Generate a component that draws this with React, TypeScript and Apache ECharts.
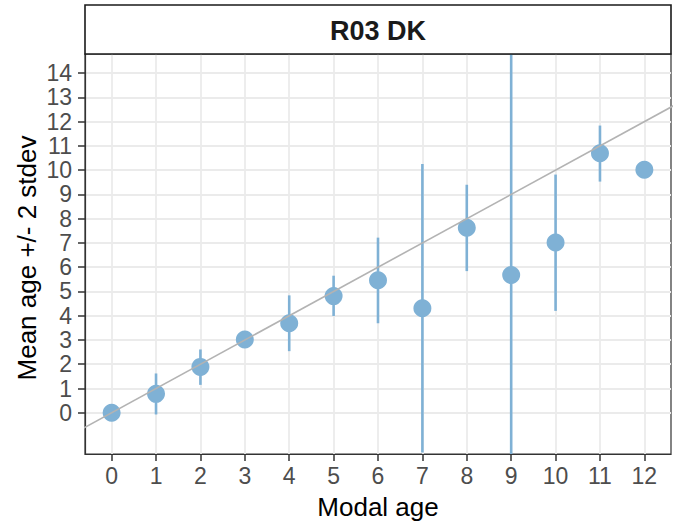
import React, { useEffect, useRef } from "react";
import * as echarts from "echarts";

const modalAge = [0, 1, 2, 3, 4, 5, 6, 7, 8, 9, 10, 11, 12];
const meanAge = [0.0, 0.78, 1.89, 3.02, 3.69, 4.81, 5.46, 4.31, 7.63, 5.68, 7.02, 10.7, 10.02];
const lowerAge = [0.0, -0.07, 1.15, 3.02, 2.54, 3.99, 3.69, -1.64, 5.84, -4.1, 4.2, 9.53, 10.02];
const upperAge = [0.0, 1.62, 2.61, 3.02, 4.84, 5.65, 7.22, 10.26, 9.4, 15.5, 9.82, 11.84, 10.02];
const xTicks = [0, 1, 2, 3, 4, 5, 6, 7, 8, 9, 10, 11, 12];
const yTicks = [0, 1, 2, 3, 4, 5, 6, 7, 8, 9, 10, 11, 12, 13, 14];
const refLine = [-2, 16];
const stripTitle = "R03 DK";
const xTitle = "Modal age";
const yTitle = "Mean age +/- 2 stdev";

const FONT = "'Liberation Sans', Arial, Helvetica, sans-serif";
const POINT_COLOR = "#7FB1D5";

const GRID = { left: 85, top: 54, width: 586, height: 400 };

export default function App() {
  const ref = useRef<HTMLDivElement>(null);

  useEffect(() => {
    if (!ref.current) return;
    const chart = echarts.init(ref.current, undefined, { renderer: "svg" });
    const option: any = {
      animation: false,
      backgroundColor: "#ffffff",
      grid: {
        left: GRID.left,
        top: GRID.top,
        width: GRID.width,
        height: GRID.height,
        show: true,
        borderColor: "#333333",
        borderWidth: 1.2,
        backgroundColor: "#ffffff",
        containLabel: false,
        outerBoundsMode: "none",
      },
      xAxis: {
        type: "value",
        min: -0.6,
        max: 12.6,
        name: xTitle,
        nameLocation: "middle",
        nameGap: 40,
        nameTextStyle: { color: "#000", fontSize: 26, fontFamily: FONT },
        axisLine: { show: true, onZero: false, lineStyle: { color: "#333333", width: 1.2 } },
        axisTick: { show: true, length: 7, customValues: xTicks, lineStyle: { color: "#333333", width: 1.5 } },
        axisLabel: { customValues: xTicks, color: "#4D4D4D", fontSize: 23, fontFamily: FONT, margin: 10 },
        splitLine: { show: true, lineStyle: { color: "#EBEBEB", width: 1.8 } },
      },
      yAxis: {
        type: "value",
        min: -1.7,
        max: 14.79,
        axisLine: { show: true, onZero: false, lineStyle: { color: "#333333", width: 1.2 } },
        axisTick: { show: true, length: 7, customValues: yTicks, lineStyle: { color: "#333333", width: 1.5 } },
        axisLabel: { customValues: yTicks, color: "#4D4D4D", fontSize: 23, fontFamily: FONT, margin: 13 },
        splitLine: { show: true, lineStyle: { color: "#EBEBEB", width: 1.8 } },
      },
      series: [
        {
          type: "custom",
          z: 2,
          clip: true,
          data: modalAge.map((x, i) => [x, lowerAge[i], upperAge[i]]),
          renderItem: (params: any, api: any) => {
            const x = api.value(0);
            const p1 = api.coord([x, api.value(1)]);
            const p2 = api.coord([x, api.value(2)]);
            return {
              type: "line",
              shape: { x1: p1[0], y1: p1[1], x2: p2[0], y2: p2[1] },
              style: { stroke: POINT_COLOR, lineWidth: 2.6 },
            };
          },
        },
        {
          type: "scatter",
          z: 3,
          symbol: "circle",
          symbolSize: 18,
          itemStyle: { color: POINT_COLOR, opacity: 1 },
          data: modalAge.map((x, i) => [x, meanAge[i]]),
        },
        {
          type: "line",
          z: 4,
          clip: true,
          showSymbol: false,
          symbol: "none",
          lineStyle: { color: "#B3B3B3", width: 1.6 },
          data: refLine.map((v) => [v, v]),
        },
      ],
      graphic: [
        {
          type: "rect",
          z: 10,
          shape: { x: GRID.left, y: 5, width: GRID.width, height: GRID.top - 5 },
          style: { fill: "#ffffff", stroke: "#1A1A1A", lineWidth: 1.6 },
        },
        {
          type: "text",
          z: 11,
          x: GRID.left + GRID.width / 2,
          y: (5 + GRID.top) / 2 + 1,
          style: {
            text: stripTitle,
            fill: "#1A1A1A",
            font: `bold 27px ${FONT}`,
            align: "center",
            verticalAlign: "middle",
          },
        },
        {
          type: "text",
          z: 11,
          x: 27,
          y: 258,
          rotation: Math.PI / 2,
          style: {
            text: yTitle,
            fill: "#000000",
            font: `26px ${FONT}`,
            align: "center",
            verticalAlign: "middle",
          },
        },
      ],
    };
    chart.setOption(option);
    return () => chart.dispose();
  }, []);

  return (
    <div
      ref={ref}
      style={{ position: "fixed", left: 0, top: 0, width: 676, height: 523 }}
    />
  );
}
